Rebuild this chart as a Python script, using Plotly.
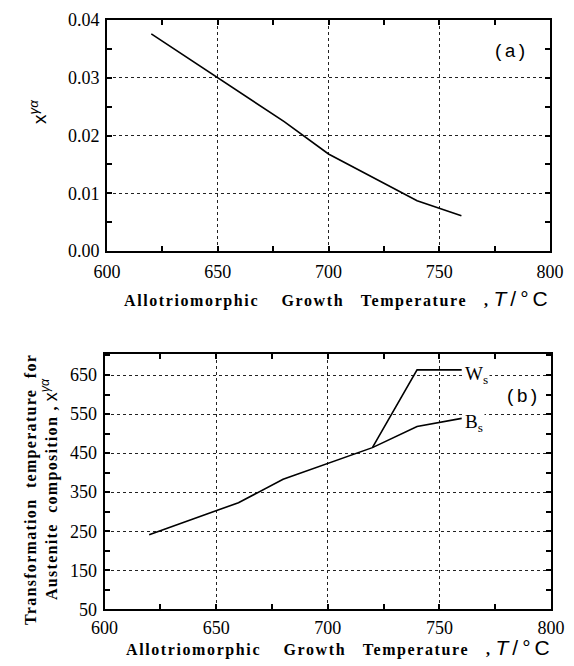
import plotly.graph_objects as go

# Panel (a)
temp_a = [620, 640, 650, 660, 680, 700, 720, 740, 760]
x_ga = [0.0376, 0.0325, 0.0300, 0.0275, 0.0224, 0.0168, 0.0127, 0.0087, 0.0061]

# Panel (b)
temp_bs = [620, 650, 660, 680, 700, 720, 740, 760]
bs_vals = [241, 302, 323, 383, 423, 464, 518, 539]
temp_ws = [720, 740, 760]
ws_vals = [464, 663, 663]

x_ticks = [600, 650, 700, 750, 800]
ya_ticks = [0.00, 0.01, 0.02, 0.03, 0.04]
ya_labels = ["0.00", "0.01", "0.02", "0.03", "0.04"]
yb_ticks = [50, 150, 250, 350, 450, 550, 650]

serif = "Liberation Serif"
mono = "Liberation Mono"
sans = "Liberation Sans"

W, H, OFF = 574, 666, 8  # page body margin shifts the figure by 8px


def px(x):
    return (x - OFF) / W


def py(y):
    return 1 - (y - OFF) / H


fig = go.Figure()
line = dict(color="black", width=1.6)
fig.add_trace(go.Scatter(x=temp_a, y=x_ga, mode="lines", line=line, xaxis="x", yaxis="y", showlegend=False))
fig.add_trace(go.Scatter(x=temp_bs, y=bs_vals, mode="lines", line=line, xaxis="x2", yaxis="y2", showlegend=False))
fig.add_trace(go.Scatter(x=temp_ws, y=ws_vals, mode="lines", line=line, xaxis="x2", yaxis="y2", showlegend=False))


def ax_common(minor_dtick, minor_tick0):
    return dict(
        showline=True, linecolor="black", linewidth=2, mirror="ticks",
        ticks="inside", ticklen=0, tickcolor="black", automargin=False,
        ticklabeloverflow="allow",
        showgrid=True, gridcolor="#222", griddash="dot", gridwidth=1.2,
        zeroline=False,
        tickfont=dict(family=serif, size=18, color="black"),
        minor=dict(ticks="inside", ticklen=5, tickcolor="black", tickwidth=1.5,
                   showgrid=False, dtick=minor_dtick, tick0=minor_tick0),
    )


fig.update_layout(
    width=W, height=H,
    margin=dict(l=0, r=0, t=0, b=0),
    paper_bgcolor="white", plot_bgcolor="white",
    font=dict(family=serif, color="black"),
    xaxis=dict(domain=[px(107), px(550)], anchor="y", range=[600, 800], tickvals=x_ticks,
               ticklabelstandoff=3, **ax_common(25, 600)),
    yaxis=dict(domain=[py(251), py(20)], anchor="x", range=[0, 0.04], tickvals=ya_ticks,
               ticktext=ya_labels, ticklabelstandoff=2, **ax_common(0.005, 0)),
    xaxis2=dict(domain=[px(104.5), px(551)], anchor="y2", range=[600, 800], tickvals=x_ticks,
                ticklabelstandoff=1, **ax_common(25, 600)),
    yaxis2=dict(domain=[py(609.3), py(354.3)], anchor="x2", range=[50, 703], tickvals=yb_ticks,
                ticklabelstandoff=2, **ax_common(50, 50)),
)

xtitle = ("<span style='letter-spacing:1.6px'><b>Allotriomorphic&nbsp;&nbsp;&nbsp; Growth&nbsp;&nbsp; "
          "Temperature&nbsp;&nbsp; ,</b></span> "
          "<span style='font-family:Liberation Sans;letter-spacing:4px;font-size:21px'><i>T</i>/°C</span>")

ann = [
    dict(text=xtitle, xref="paper", yref="paper", x=px(338), y=py(298),
         showarrow=False, font=dict(family=serif, size=16, color="black"), xanchor="center", yanchor="middle"),
    dict(text=xtitle, xref="paper", yref="paper", x=px(340), y=py(647),
         showarrow=False, font=dict(family=serif, size=16, color="black"), xanchor="center", yanchor="middle"),
    dict(text="x<sup><i>γα</i></sup>", xref="paper", yref="paper", x=px(38), y=py(112),
         showarrow=False, textangle=-90, font=dict(family=sans, size=19, color="black"),
         xanchor="center", yanchor="middle"),
    dict(text="<span style='letter-spacing:1.3px'><b>Transformation&nbsp; temperature&nbsp; for</b></span><br>"
              "<span style='letter-spacing:1.3px'><b>Austenite&nbsp; composition ,</b></span> "
              "<span style='font-family:Liberation Sans;font-size:18px'>x<sup><i>γα</i></sup></span>",
         xref="paper", yref="paper", x=px(41), y=py(490),
         showarrow=False, textangle=-90, font=dict(family=serif, size=16, color="black"),
         xanchor="center", yanchor="middle"),
    dict(text="(a)", xref="x", yref="y", x=782, y=0.0344, showarrow=False,
         font=dict(family=mono, size=19, color="black")),
    dict(text="(b)", xref="x2", yref="y2", x=787, y=594, showarrow=False,
         font=dict(family=mono, size=19, color="black"), bgcolor="white"),
    dict(text="W<sub>s</sub>", xref="x2", yref="y2", x=760.5, y=650, xanchor="left", showarrow=False,
         font=dict(family=serif, size=19, color="black"), bgcolor="white"),
    dict(text="B<sub>s</sub>", xref="x2", yref="y2", x=760.5, y=527, xanchor="left", showarrow=False,
         font=dict(family=serif, size=19, color="black"), bgcolor="white"),
]
fig.update_layout(annotations=ann)

fig.write_html("out.html")
